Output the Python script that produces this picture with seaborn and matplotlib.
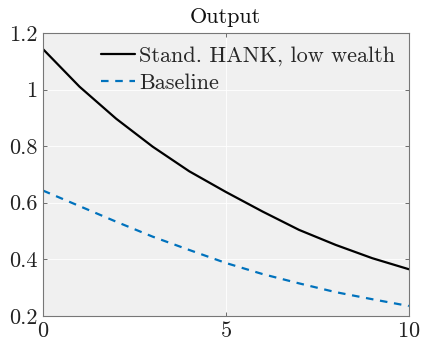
import matplotlib
matplotlib.use("Agg")
import matplotlib.pyplot as plt
import seaborn as sns
import pandas as pd

quarters = [0, 1, 2, 3, 4, 5, 6, 7, 8, 9, 10]
hank_low_wealth = [1.143, 1.01, 0.897, 0.798, 0.711, 0.638, 0.569, 0.504, 0.451, 0.404, 0.365]
baseline = [0.643, 0.588, 0.533, 0.480, 0.433, 0.387, 0.348, 0.315, 0.284, 0.259, 0.235]
series_names = ["Stand. HANK, low wealth", "Baseline"]

sns.set_theme(style="ticks")
plt.rcParams["font.family"] = ["serif"]
plt.rcParams["font.serif"] = ["cmr10", "DejaVu Serif"]
plt.rcParams["axes.formatter.use_mathtext"] = True
plt.rcParams["mathtext.fontset"] = "cm"

df = pd.DataFrame({
    "x": quarters * 2,
    "y": hank_low_wealth + baseline,
    "series": [series_names[0]] * len(quarters) + [series_names[1]] * len(quarters),
})

fig = plt.figure(figsize=(4.21, 3.43), dpi=100)
ax = fig.add_axes([0.102, 0.079, 0.869, 0.825])
ax.set_facecolor("#f0f0f0")

sns.lineplot(data=df, x="x", y="y", hue="series", style="series",
             palette={series_names[0]: "black", series_names[1]: "#0072bd"},
             dashes={series_names[0]: "", series_names[1]: (3.4, 3.0)},
             linewidth=1.6, ax=ax)

ax.set_xlim(0, 10)
ax.set_ylim(0.2, 1.2)
ax.set_xticks([0, 5, 10])
ax.set_yticks([0.2, 0.4, 0.6, 0.8, 1.0, 1.2])
ax.set_yticklabels(["0.2", "0.4", "0.6", "0.8", "1", "1.2"])
ax.set_xlabel("")
ax.set_ylabel("")
ax.grid(True, color="white", linewidth=0.6)
ax.set_axisbelow(True)
ax.tick_params(direction="in", length=3, width=0.6, color="#555555",
               labelsize=16, labelcolor="#222222", top=True, right=True,
               labeltop=False, labelright=False, pad=4)
for s in ax.spines.values():
    s.set_color("#777777")
    s.set_linewidth(0.8)
ax.set_title("Output", fontsize=16, color="#111111", pad=7)

leg = ax.legend(loc="upper right", frameon=False, fontsize=16,
                handlelength=1.55, handletextpad=0.2, borderaxespad=0.3,
                labelspacing=0.32, borderpad=0.3)
for line in leg.get_lines():
    line.set_linewidth(1.6)

fig.savefig("out.png", dpi=100)
